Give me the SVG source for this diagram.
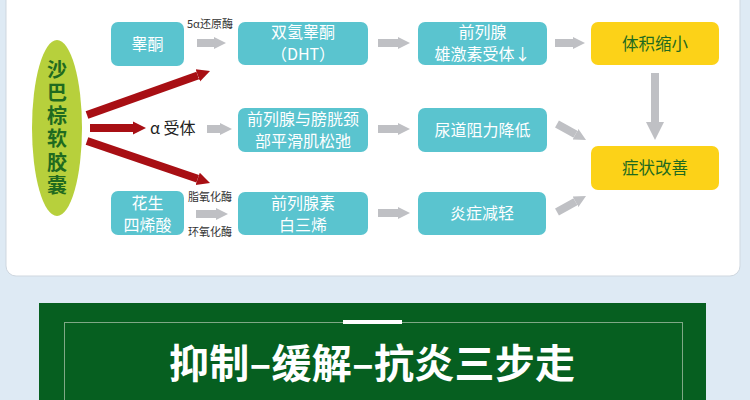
<svg xmlns="http://www.w3.org/2000/svg" width="750" height="400" viewBox="0 0 750 400">
<defs>
<style>
.box{fill:#5ac4cf;}
.ybox{fill:#fcd218;}
.t{font-family:"Noto Sans CJK SC","Noto Sans",sans-serif;font-size:16px;fill:#ffffff;text-anchor:middle;}
.ty{font-family:"Noto Sans CJK SC","Noto Sans",sans-serif;font-size:16.5px;fill:#1f6a1f;text-anchor:middle;}
.sm{font-family:"Noto Sans CJK SC","Noto Sans",sans-serif;font-size:11px;fill:#333333;}
.g{stroke:#bfc0c4;stroke-width:8;fill:none;}
.r{stroke:#a80f14;stroke-width:8;fill:none;}
</style>
<marker id="ga" viewBox="0 0 10 10" refX="0" refY="5" markerUnits="userSpaceOnUse" markerWidth="12" markerHeight="17" orient="auto"><path d="M0,0 L10,5 L0,10 z" fill="#bfc0c4"/></marker>
<marker id="gv" viewBox="0 0 10 10" refX="0" refY="5" markerUnits="userSpaceOnUse" markerWidth="18" markerHeight="19" orient="auto"><path d="M0,0 L10,5 L0,10 z" fill="#bfc0c4"/></marker>
<marker id="ra" viewBox="0 0 10 10" refX="0" refY="5" markerUnits="userSpaceOnUse" markerWidth="13" markerHeight="17" orient="auto"><path d="M0,0 L10,5 L0,10 z" fill="#a80f14"/></marker>
</defs>
<rect x="0" y="0" width="750" height="400" fill="#deeaf4"/>
<rect x="6" y="-12" width="734" height="288" rx="10" fill="#ffffff" stroke="#cfd7df" stroke-width="1"/>

<g id="connectors">
<line class="r" x1="87" y1="115" x2="197.8" y2="75.4" marker-end="url(#ra)"/>
<line class="r" x1="90" y1="128" x2="133" y2="128" marker-end="url(#ra)"/>
<line class="r" x1="87" y1="141" x2="197.7" y2="178.8" marker-end="url(#ra)"/>
<line class="g" x1="197" y1="43" x2="214" y2="43" marker-end="url(#ga)"/>
<line class="g" x1="378" y1="43" x2="398" y2="43" marker-end="url(#ga)"/>
<line class="g" x1="555" y1="43" x2="573" y2="43" marker-end="url(#ga)"/>
<line class="g" x1="207" y1="129" x2="220" y2="129" marker-end="url(#ga)"/>
<line class="g" x1="378" y1="129" x2="398" y2="129" marker-end="url(#ga)"/>
<line class="g" x1="196" y1="214" x2="216" y2="214" marker-end="url(#ga)"/>
<line class="g" x1="378" y1="213" x2="398" y2="213" marker-end="url(#ga)"/>
<line class="g" x1="557" y1="124" x2="575.5" y2="134.2" marker-end="url(#ga)"/>
<line class="g" x1="557" y1="212" x2="575.5" y2="201.8" marker-end="url(#ga)"/>
<line class="g" stroke-width="9" x1="655" y1="73" x2="655" y2="122" marker-end="url(#gv)"/>
<text class="sm" x="187" y="28">5α还原酶</text>
<text class="sm" x="188" y="201">脂氧化酶</text>
<text class="sm" x="188" y="236">环氧化酶</text>
</g>

<g id="capsule">
<ellipse cx="57" cy="128" rx="25" ry="88" fill="#b7d03c"/>
<text x="57" y="59" writing-mode="tb" glyph-orientation-vertical="0" letter-spacing="3.3" font-family="'Noto Sans CJK SC',sans-serif" font-size="20" font-weight="bold" fill="#1f6a1f">沙巴棕软胶囊</text>
</g>

<g id="alpha">
<text x="150" y="134" font-family="'Noto Sans CJK SC',sans-serif" font-size="16" fill="#222222">α 受体</text>
</g>

<g id="testosterone"><rect class="box" x="111" y="22" width="73" height="44" rx="7"/><text class="t" x="147.5" y="50" font-size="17">睾酮</text></g>
<g id="dht"><rect class="box" x="238" y="22" width="130" height="43" rx="7"/><text class="t"><tspan x="303" y="37.5">双氢睾酮</tspan><tspan x="303" y="60">（DHT）</tspan></text></g>
<g id="receptor"><rect class="box" x="418" y="22" width="129" height="43" rx="7"/><text class="t"><tspan x="482.5" y="37.5">前列腺</tspan><tspan x="482.5" y="60">雄激素受体↓</tspan></text></g>
<g id="volume"><rect class="ybox" x="591" y="22" width="128" height="43" rx="7"/><text class="ty" x="655" y="49.5">体积缩小</text></g>

<g id="muscle"><rect class="box" x="238" y="108" width="130" height="44" rx="7"/><text class="t" font-size="15.5"><tspan x="303" y="125">前列腺与膀胱颈</tspan><tspan x="303" y="147">部平滑肌松弛</tspan></text></g>
<g id="urethra"><rect class="box" x="418" y="108" width="129" height="44" rx="7"/><text class="t" x="482.5" y="136">尿道阻力降低</text></g>
<g id="symptom"><rect class="ybox" x="591" y="146" width="128" height="44" rx="7"/><text class="ty" x="655" y="174">症状改善</text></g>

<g id="arachidonic"><rect class="box" x="111" y="191" width="73" height="44" rx="7"/><text class="t" font-size="17"><tspan x="147.5" y="209">花生</tspan><tspan x="147.5" y="231">四烯酸</tspan></text></g>
<g id="leuko"><rect class="box" x="238" y="192" width="130" height="43" rx="7"/><text class="t"><tspan x="303" y="209">前列腺素</tspan><tspan x="303" y="231">白三烯</tspan></text></g>
<g id="inflam"><rect class="box" x="418" y="192" width="128" height="43" rx="7"/><text class="t" x="482" y="219">炎症减轻</text></g>

<g id="banner">
<rect x="39" y="303" width="667" height="100" fill="#065f20"/>
<rect x="64.5" y="322.5" width="618" height="90" fill="none" stroke="#7fa886" stroke-width="1"/>
<rect x="343" y="320" width="59" height="4" fill="#ffffff"/>
<text x="372" y="378" font-family="'Noto Sans CJK SC',sans-serif" font-size="40" font-weight="bold" fill="#ffffff" text-anchor="middle" textLength="406" lengthAdjust="spacing">抑制–缓解–抗炎三步走</text>
</g>
</svg>
